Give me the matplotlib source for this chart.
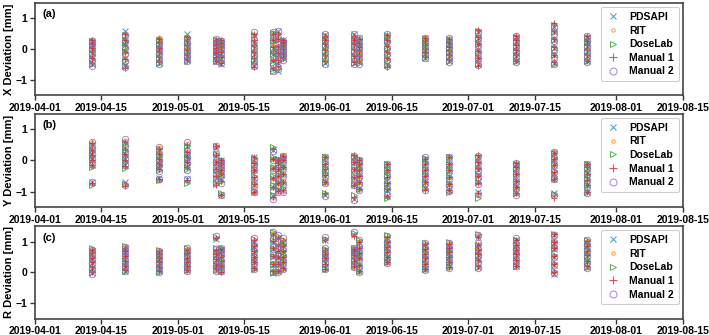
import matplotlib
matplotlib.use("Agg")
import matplotlib.pyplot as plt
import matplotlib.dates as mdates
import numpy as np
import pandas as pd

plt.rcParams['font.family'] = ['Liberation Sans', 'DejaVu Sans']
plt.rcParams['font.weight'] = 'bold'

dates = ['2019-04-13', '2019-04-20', '2019-04-27', '2019-05-03', '2019-05-09', '2019-05-10',
         '2019-05-17', '2019-05-21', '2019-05-22', '2019-05-23', '2019-06-01', '2019-06-07',
         '2019-06-08', '2019-06-14', '2019-06-22', '2019-06-27', '2019-07-03', '2019-07-11',
         '2019-07-19', '2019-07-26']

methods = ['PDSAPI', 'RIT', 'DoseLab', 'Manual 1', 'Manual 2']
panel_labels = ['(a)', '(b)', '(c)']
y_labels = ['X Deviation [mm]', 'Y Deviation [mm]', 'R Deviation [mm]']

# ---------------- X deviation ----------------
x_pdsapi = [[-0.48,-0.3,-0.12,0.02,0.15,0.25],[-0.52,-0.3,-0.05,0.12,0.3,0.58],[-0.45,-0.28,-0.1,0.05,0.18,0.3],
            [-0.35,-0.2,-0.05,0.1,0.25,0.48],[-0.38,-0.22,-0.05,0.08,0.2,0.3],[-0.48,-0.3,-0.12,0.02,0.15,0.25],
            [-0.55,-0.35,-0.15,0.05,0.22,0.45],[-0.65,-0.4,-0.15,0.05,0.3,0.5],[-0.7,-0.45,-0.2,0.05,0.3,0.58],
            [-0.3,-0.15,-0.02,0.1,0.2,0.28],[-0.45,-0.25,-0.05,0.12,0.3,0.45],[-0.45,-0.25,-0.05,0.15,0.3,0.48],
            [-0.42,-0.25,-0.1,0.05,0.2,0.35],[-0.5,-0.3,-0.1,0.1,0.28,0.45],[-0.28,-0.15,-0.02,0.1,0.22,0.35],
            [-0.38,-0.22,-0.08,0.05,0.2,0.32],[-0.48,-0.28,-0.05,0.15,0.35,0.55],[-0.38,-0.22,-0.05,0.1,0.25,0.4],
            [-0.45,-0.2,0.05,0.3,0.55,0.72],[-0.4,-0.22,-0.05,0.1,0.25,0.38]]
x_rit = [[-0.45,-0.25,-0.08,0.06,0.2,0.33],[-0.5,-0.25,-0.02,0.18,0.35,0.5],[-0.4,-0.22,-0.05,0.1,0.25,0.38],
         [-0.3,-0.15,0.0,0.15,0.28,0.38],[-0.32,-0.15,0.0,0.12,0.22,0.33],[-0.4,-0.22,-0.05,0.08,0.2,0.32],
         [-0.5,-0.3,-0.1,0.1,0.28,0.45],[-0.6,-0.35,-0.1,0.12,0.35,0.55],[-0.6,-0.38,-0.12,0.1,0.35,0.5],
         [-0.28,-0.12,0.02,0.12,0.22,0.3],[-0.4,-0.2,0.0,0.18,0.32,0.45],[-0.4,-0.2,0.0,0.18,0.32,0.42],
         [-0.38,-0.2,-0.05,0.1,0.22,0.35],[-0.5,-0.28,-0.05,0.12,0.3,0.45],[-0.22,-0.1,0.02,0.15,0.25,0.38],
         [-0.35,-0.18,-0.02,0.1,0.22,0.35],[-0.42,-0.22,0.0,0.22,0.42,0.62],[-0.35,-0.18,0.0,0.15,0.28,0.42],
         [-0.4,-0.15,0.1,0.35,0.6,0.82],[-0.35,-0.18,0.0,0.15,0.28,0.42]]
x_doselab = [[-0.5,-0.32,-0.15,0.0,0.12,0.25],[-0.55,-0.35,-0.1,0.08,0.25,0.45],[-0.45,-0.3,-0.12,0.02,0.15,0.3],
             [-0.38,-0.22,-0.08,0.08,0.2,0.35],[-0.38,-0.2,-0.08,0.05,0.18,0.28],[-0.42,-0.25,-0.1,0.05,0.15,0.25],
             [-0.5,-0.35,-0.15,0.02,0.2,0.45],[-0.7,-0.45,-0.2,0.0,0.25,0.52],[-0.62,-0.4,-0.15,0.05,0.28,0.5],
             [-0.32,-0.18,-0.05,0.08,0.18,0.25],[-0.42,-0.22,-0.05,0.1,0.28,0.42],[-0.45,-0.22,-0.05,0.12,0.28,0.42],
             [-0.45,-0.25,-0.1,0.05,0.18,0.32],[-0.52,-0.32,-0.12,0.05,0.25,0.42],[-0.25,-0.12,0.0,0.12,0.2,0.32],
             [-0.4,-0.22,-0.08,0.05,0.18,0.3],[-0.5,-0.3,-0.08,0.15,0.35,0.58],[-0.4,-0.2,-0.05,0.1,0.25,0.38],
             [-0.48,-0.2,0.05,0.3,0.55,0.78],[-0.4,-0.22,-0.05,0.1,0.22,0.35]]
x_manual1 = [[-0.45,-0.28,-0.1,0.05,0.15,0.28],[-0.6,-0.32,-0.08,0.12,0.3,0.5],[-0.42,-0.25,-0.08,0.05,0.2,0.32],
             [-0.35,-0.18,-0.02,0.12,0.25,0.38],[-0.4,-0.25,-0.1,0.05,0.18,0.28],[-0.45,-0.25,-0.08,0.08,0.18,0.3],
             [-0.58,-0.3,-0.08,0.12,0.3,0.48],[-0.6,-0.35,-0.12,0.08,0.3,0.48],[-0.55,-0.35,-0.12,0.1,0.32,0.5],
             [-0.3,-0.15,0.0,0.12,0.22,0.28],[-0.4,-0.2,-0.02,0.15,0.3,0.42],[-0.42,-0.22,0.0,0.15,0.3,0.42],
             [-0.4,-0.22,-0.05,0.08,0.2,0.32],[-0.58,-0.3,-0.08,0.1,0.28,0.45],[-0.25,-0.1,0.0,0.12,0.25,0.35],
             [-0.35,-0.2,-0.05,0.08,0.2,0.32],[-0.55,-0.28,-0.05,0.18,0.4,0.63],[-0.38,-0.2,-0.02,0.12,0.28,0.42],
             [-0.42,-0.18,0.08,0.32,0.58,0.85],[-0.38,-0.2,-0.02,0.12,0.25,0.42]]
x_manual2 = [[-0.55,-0.35,-0.15,0.0,0.15,0.25],[-0.58,-0.38,-0.15,0.05,0.25,0.45],[-0.48,-0.32,-0.15,0.0,0.15,0.28],
             [-0.4,-0.25,-0.1,0.05,0.2,0.35],[-0.4,-0.25,-0.1,0.05,0.2,0.33],[-0.45,-0.28,-0.12,0.02,0.15,0.25],
             [-0.55,-0.38,-0.18,0.05,0.3,0.55],[-0.72,-0.48,-0.22,0.05,0.3,0.55],[-0.65,-0.4,-0.15,0.08,0.35,0.6],
             [-0.35,-0.2,-0.05,0.05,0.18,0.25],[-0.5,-0.3,-0.1,0.1,0.3,0.48],[-0.5,-0.3,-0.1,0.1,0.3,0.48],
             [-0.5,-0.3,-0.12,0.05,0.2,0.35],[-0.55,-0.35,-0.15,0.05,0.25,0.48],[-0.3,-0.15,-0.02,0.1,0.22,0.35],
             [-0.42,-0.25,-0.1,0.05,0.2,0.35],[-0.52,-0.3,-0.1,0.12,0.35,0.55],[-0.42,-0.25,-0.08,0.1,0.25,0.42],
             [-0.5,-0.25,0.0,0.25,0.5,0.72],[-0.42,-0.25,-0.08,0.08,0.25,0.42]]

# ---------------- Y deviation ----------------
y_pdsapi = [[-0.7,-0.15,0.05,0.2,0.35,0.5],[-0.68,-0.15,0.05,0.2,0.4,0.6],[-0.58,-0.25,-0.1,0.05,0.2,0.35],
            [-0.6,-0.2,-0.05,0.1,0.25,0.45],[-0.7,-0.45,-0.25,-0.05,0.15,0.4],[-1.1,-0.6,-0.45,-0.3,-0.12,0.02],
            [-1.0,-0.78,-0.55,-0.32,-0.1,0.1],[-1.15,-0.85,-0.55,-0.25,0.05,0.35],[-0.95,-0.72,-0.5,-0.3,-0.1,0.05],
            [-0.95,-0.7,-0.45,-0.2,0.0,0.15],[-1.1,-0.7,-0.5,-0.3,-0.1,0.1],[-1.25,-0.78,-0.55,-0.3,-0.05,0.12],
            [-0.9,-0.7,-0.5,-0.3,-0.15,0.0],[-1.15,-0.95,-0.75,-0.5,-0.3,-0.1],[-0.9,-0.7,-0.5,-0.3,-0.1,0.05],
            [-0.95,-0.75,-0.5,-0.3,-0.1,0.1],[-1.0,-0.7,-0.5,-0.3,-0.1,0.1],[-1.05,-0.85,-0.65,-0.45,-0.25,-0.1],
            [-1.05,-0.6,-0.4,-0.15,0.05,0.25],[-1.0,-0.8,-0.6,-0.4,-0.25,-0.1]]
y_rit = [[-0.75,-0.2,0.0,0.18,0.38,0.6],[-0.8,-0.2,0.0,0.18,0.45,0.65],[-0.65,-0.3,-0.12,0.05,0.25,0.42],
         [-0.68,-0.25,-0.05,0.15,0.3,0.55],[-0.75,-0.5,-0.3,-0.1,0.2,0.48],[-1.12,-0.7,-0.5,-0.35,-0.15,0.0],
         [-1.05,-0.8,-0.6,-0.35,-0.12,0.05],[-1.2,-0.9,-0.6,-0.3,0.05,0.4],[-1.0,-0.75,-0.55,-0.32,-0.12,0.0],
         [-1.0,-0.75,-0.5,-0.25,-0.05,0.18],[-1.08,-0.72,-0.5,-0.3,-0.1,0.12],[-1.22,-0.8,-0.55,-0.32,-0.05,0.15],
         [-0.95,-0.72,-0.52,-0.32,-0.15,0.02],[-1.18,-0.95,-0.75,-0.55,-0.35,-0.12],[-0.92,-0.72,-0.5,-0.3,-0.1,0.08],
         [-1.0,-0.78,-0.55,-0.32,-0.12,0.12],[-1.12,-0.72,-0.5,-0.28,-0.05,0.15],[-1.08,-0.88,-0.65,-0.45,-0.25,-0.08],
         [-1.1,-0.62,-0.4,-0.15,0.05,0.3],[-1.02,-0.82,-0.62,-0.42,-0.25,-0.1]]
y_doselab = [[-0.78,-0.2,0.0,0.15,0.3,0.5],[-0.75,-0.25,-0.05,0.15,0.35,0.55],[-0.62,-0.3,-0.15,0.02,0.18,0.38],
             [-0.72,-0.28,-0.1,0.08,0.25,0.45],[-0.75,-0.55,-0.3,-0.05,0.2,0.45],[-1.05,-0.65,-0.45,-0.25,-0.1,0.0],
             [-0.98,-0.75,-0.5,-0.3,-0.1,0.08],[-1.1,-0.8,-0.5,-0.2,0.1,0.42],[-0.92,-0.7,-0.48,-0.28,-0.08,0.02],
             [-0.9,-0.68,-0.42,-0.2,0.0,0.12],[-1.05,-0.68,-0.45,-0.25,-0.05,0.1],[-1.12,-0.75,-0.5,-0.28,-0.05,0.15],
             [-0.92,-0.7,-0.48,-0.28,-0.1,0.05],[-1.2,-0.92,-0.72,-0.5,-0.3,-0.12],[-0.88,-0.68,-0.48,-0.28,-0.08,0.08],
             [-1.0,-0.75,-0.52,-0.3,-0.1,0.12],[-1.2,-0.7,-0.48,-0.28,-0.08,0.12],[-1.05,-0.85,-0.65,-0.45,-0.25,-0.1],
             [-1.08,-0.55,-0.35,-0.12,0.08,0.25],[-1.0,-0.8,-0.6,-0.42,-0.25,-0.12]]
y_manual1 = [[-0.72,-0.15,0.02,0.18,0.35,0.55],[-0.82,-0.18,0.02,0.2,0.38,0.6],[-0.6,-0.28,-0.1,0.05,0.22,0.38],
             [-0.62,-0.22,-0.05,0.1,0.28,0.5],[-0.78,-0.5,-0.28,-0.05,0.18,0.45],[-1.1,-0.65,-0.45,-0.3,-0.12,0.0],
             [-1.02,-0.75,-0.52,-0.3,-0.08,0.1],[-1.18,-0.85,-0.55,-0.25,0.05,0.38],[-0.98,-0.72,-0.5,-0.28,-0.08,0.0],
             [-0.95,-0.7,-0.45,-0.22,0.0,0.15],[-1.05,-0.7,-0.48,-0.28,-0.1,0.12],[-1.18,-0.78,-0.52,-0.28,-0.05,0.18],
             [-0.92,-0.7,-0.5,-0.3,-0.12,0.02],[-1.15,-0.92,-0.72,-0.52,-0.3,-0.12],[-0.95,-0.7,-0.5,-0.3,-0.1,0.05],
             [-0.95,-0.75,-0.52,-0.3,-0.1,0.1],[-1.05,-0.72,-0.5,-0.25,-0.05,0.18],[-1.05,-0.85,-0.65,-0.42,-0.22,-0.08],
             [-1.2,-0.6,-0.38,-0.15,0.05,0.25],[-1.0,-0.8,-0.62,-0.42,-0.22,-0.1]]
y_manual2 = [[-0.7,-0.12,0.05,0.22,0.4,0.6],[-0.78,-0.15,0.05,0.25,0.45,0.68],[-0.6,-0.35,-0.15,0.02,0.2,0.42],
             [-0.6,-0.3,-0.08,0.1,0.3,0.58],[-0.7,-0.48,-0.25,-0.05,0.2,0.45],[-1.12,-0.72,-0.5,-0.32,-0.15,-0.02],
             [-1.0,-0.8,-0.55,-0.32,-0.1,0.05],[-1.25,-0.95,-0.62,-0.3,0.0,0.3],[-1.0,-0.78,-0.55,-0.32,-0.12,0.02],
             [-1.02,-0.75,-0.5,-0.25,-0.02,0.15],[-1.15,-0.72,-0.5,-0.3,-0.1,0.12],[-1.28,-0.8,-0.55,-0.3,-0.05,0.15],
             [-0.95,-0.75,-0.52,-0.3,-0.12,0.02],[-1.12,-0.92,-0.72,-0.5,-0.3,-0.1],[-0.95,-0.72,-0.5,-0.3,-0.1,0.1],
             [-0.98,-0.78,-0.55,-0.32,-0.12,0.12],[-1.08,-0.75,-0.52,-0.3,-0.08,0.15],[-1.1,-0.88,-0.65,-0.45,-0.25,-0.08],
             [-1.12,-0.6,-0.38,-0.15,0.08,0.28],[-1.05,-0.82,-0.62,-0.42,-0.25,-0.1]]

# ---------------- R deviation ----------------
r_pdsapi = [[-0.02,0.15,0.3,0.45,0.58,0.7],[0.05,0.22,0.38,0.52,0.65,0.8],[0.05,0.18,0.3,0.42,0.55,0.65],
            [0.08,0.22,0.35,0.48,0.6,0.72],[0.1,0.25,0.4,0.55,0.7,1.08],[0.05,0.2,0.35,0.5,0.62,0.75],
            [0.15,0.35,0.5,0.65,0.82,1.0],[-0.02,0.25,0.5,0.75,1.0,1.25],[0.05,0.3,0.5,0.7,0.9,1.1],
            [0.15,0.35,0.5,0.65,0.85,1.0],[0.15,0.3,0.45,0.6,0.72,1.05],[0.25,0.4,0.55,0.68,0.75,1.2],
            [0.05,0.25,0.45,0.62,0.8,1.0],[0.35,0.5,0.65,0.8,0.95,1.12],[0.12,0.28,0.42,0.58,0.72,0.88],
            [0.2,0.35,0.5,0.62,0.75,0.9],[0.18,0.4,0.55,0.7,0.88,1.15],[0.22,0.4,0.55,0.72,0.88,1.05],
            [-0.05,0.25,0.5,0.75,0.95,1.2],[0.18,0.38,0.52,0.68,0.85,1.0]]
r_rit = [[0.02,0.18,0.32,0.48,0.6,0.75],[0.08,0.25,0.4,0.55,0.7,0.82],[0.08,0.2,0.35,0.48,0.6,0.7],
         [0.05,0.2,0.38,0.52,0.65,0.75],[0.05,0.22,0.38,0.55,0.72,1.12],[-0.02,0.18,0.35,0.5,0.65,0.78],
         [0.1,0.3,0.48,0.65,0.85,1.05],[0.05,0.3,0.55,0.8,1.05,1.28],[0.02,0.25,0.48,0.68,0.9,1.15],
         [0.12,0.32,0.5,0.68,0.88,1.08],[0.08,0.25,0.42,0.58,0.75,1.1],[0.15,0.35,0.52,0.68,0.78,1.25],
         [0.0,0.22,0.42,0.6,0.8,1.02],[0.3,0.48,0.65,0.82,1.0,1.15],[0.08,0.25,0.42,0.58,0.75,0.92],
         [0.15,0.32,0.48,0.62,0.78,0.95],[0.2,0.4,0.58,0.75,0.92,1.22],[0.25,0.42,0.58,0.75,0.9,1.08],
         [0.0,0.28,0.52,0.78,1.0,1.22],[0.15,0.35,0.52,0.7,0.88,1.02]]
r_doselab = [[0.0,0.15,0.32,0.5,0.65,0.8],[0.05,0.2,0.35,0.52,0.68,0.85],[0.02,0.15,0.3,0.45,0.58,0.72],
             [0.08,0.22,0.38,0.52,0.65,0.78],[0.08,0.25,0.42,0.6,0.78,1.15],[0.05,0.2,0.38,0.52,0.68,0.8],
             [0.12,0.32,0.5,0.68,0.88,1.08],[0.0,0.28,0.52,0.78,1.05,1.3],[0.05,0.28,0.5,0.72,0.95,1.18],
             [0.12,0.32,0.52,0.7,0.9,1.05],[0.1,0.28,0.45,0.6,0.75,1.08],[0.2,0.38,0.55,0.7,0.78,1.28],
             [0.05,0.25,0.45,0.62,0.82,1.05],[0.32,0.5,0.68,0.85,1.0,1.2],[0.1,0.3,0.48,0.65,0.8,0.95],
             [0.18,0.35,0.52,0.68,0.82,0.97],[0.18,0.38,0.55,0.72,0.9,1.26],[0.2,0.38,0.55,0.72,0.88,1.05],
             [0.05,0.3,0.55,0.8,1.0,1.25],[0.18,0.38,0.55,0.72,0.88,1.05]]
r_manual1 = [[0.02,0.18,0.35,0.48,0.62,0.72],[0.08,0.22,0.38,0.52,0.68,0.8],[0.05,0.18,0.32,0.45,0.58,0.68],
             [0.08,0.2,0.35,0.48,0.62,0.72],[0.1,0.25,0.42,0.58,0.72,1.1],[0.02,0.2,0.36,0.5,0.65,0.75],
             [0.15,0.32,0.5,0.68,0.85,1.05],[0.05,0.28,0.52,0.78,1.02,1.22],[0.05,0.28,0.5,0.7,0.9,1.12],
             [0.15,0.32,0.5,0.68,0.85,1.02],[0.12,0.28,0.45,0.6,0.72,1.05],[0.22,0.38,0.55,0.68,0.75,1.18],
             [0.05,0.25,0.45,0.62,0.8,1.0],[0.35,0.5,0.65,0.82,0.98,1.15],[0.12,0.28,0.45,0.6,0.75,0.92],
             [0.18,0.32,0.5,0.65,0.78,0.92],[0.2,0.4,0.58,0.72,0.9,1.15],[0.22,0.4,0.58,0.72,0.88,1.05],
             [0.0,0.28,0.52,0.78,1.0,1.26],[0.2,0.38,0.55,0.7,0.85,1.02]]
r_manual2 = [[-0.05,0.12,0.3,0.45,0.6,0.72],[0.05,0.2,0.38,0.55,0.7,0.82],[0.02,0.18,0.32,0.45,0.58,0.7],
             [0.05,0.2,0.35,0.5,0.65,0.78],[0.05,0.22,0.4,0.58,0.75,1.18],[0.05,0.2,0.38,0.55,0.7,0.8],
             [0.1,0.3,0.5,0.7,0.9,1.1],[0.0,0.28,0.55,0.82,1.08,1.32],[0.02,0.28,0.52,0.75,0.98,1.2],
             [0.12,0.32,0.52,0.72,0.92,1.1],[0.12,0.3,0.48,0.62,0.78,1.15],[0.18,0.38,0.55,0.7,0.78,1.3],
             [0.02,0.22,0.42,0.62,0.82,1.05],[0.3,0.48,0.65,0.82,1.0,1.18],[0.08,0.25,0.42,0.6,0.78,0.95],
             [0.15,0.32,0.5,0.65,0.8,0.95],[0.15,0.35,0.55,0.75,0.95,1.2],[0.2,0.4,0.58,0.75,0.92,1.1],
             [-0.02,0.25,0.5,0.78,1.0,1.22],[0.15,0.35,0.52,0.7,0.88,1.05]]

panels = [
    [x_pdsapi, x_rit, x_doselab, x_manual1, x_manual2],
    [y_pdsapi, y_rit, y_doselab, y_manual1, y_manual2],
    [r_pdsapi, r_rit, r_doselab, r_manual1, r_manual2],
]

styles = [
    dict(marker='x', color='#1f77b4', ms=4.2, mew=0.7, mfc='none'),
    dict(marker='o', color='#ff7f0e', ms=2.2, mew=0.7, mfc='none'),
    dict(marker='>', color='#2ca02c', ms=4.0, mew=0.7, mfc='none'),
    dict(marker='+', color='#d62728', ms=4.8, mew=0.8, mfc='none'),
    dict(marker='o', color='#9467bd', ms=4.6, mew=0.7, mfc='none'),
]

date_index = pd.to_datetime(dates)

fig = plt.figure(figsize=(7.09, 3.35), dpi=100)
boxes = [(0.049, 0.716, 0.914, 0.275), (0.049, 0.382, 0.914, 0.278), (0.049, 0.049, 0.914, 0.276)]

for p, (vals_list, box) in enumerate(zip(panels, boxes)):
    ax = fig.add_axes(box)
    for m, vals in enumerate(vals_list):
        xs = np.concatenate([[d] * len(v) for d, v in zip(date_index, vals)])
        ys = np.concatenate([np.asarray(v, dtype=float) for v in vals])
        st = styles[m]
        ax.plot(pd.to_datetime(xs), ys, linestyle='none', marker=st['marker'], color=st['color'],
                markersize=st['ms'], markeredgewidth=st['mew'], markerfacecolor=st['mfc'],
                alpha=0.8, label=methods[m])
    ax.set_ylim(-1.5, 1.5)
    ax.set_xlim(pd.Timestamp('2019-04-01'), pd.Timestamp('2019-08-15'))
    ax.set_yticks([-1, 0, 1])
    ax.xaxis.set_major_locator(mdates.DayLocator(bymonthday=[1, 15]))
    ax.xaxis.set_major_formatter(mdates.DateFormatter('%Y-%m-%d'))
    ax.tick_params(axis='both', labelsize=7.5, length=3.5, width=1, color='#333333', pad=2)
    for lab in ax.get_xticklabels() + ax.get_yticklabels():
        lab.set_fontweight('bold')
    for sp in ax.spines.values():
        sp.set_color('#444444')
        sp.set_linewidth(1.2)
    ax.set_ylabel(y_labels[p], fontsize=8, fontweight='bold', labelpad=1)
    ax.text(0.012, 0.93, panel_labels[p], transform=ax.transAxes, fontsize=8,
            fontweight='bold', va='top', ha='left')
    leg = ax.legend(loc='upper right', frameon=True, framealpha=1, markerscale=1.1,
                    edgecolor='#cccccc', handletextpad=0.8, handlelength=1.5, labelspacing=0.35,
                    borderpad=0.45, borderaxespad=0.4, prop={'weight': 'bold', 'size': 7.5})
    leg.get_frame().set_linewidth(0.8)

fig.savefig('out.png', dpi=100)
